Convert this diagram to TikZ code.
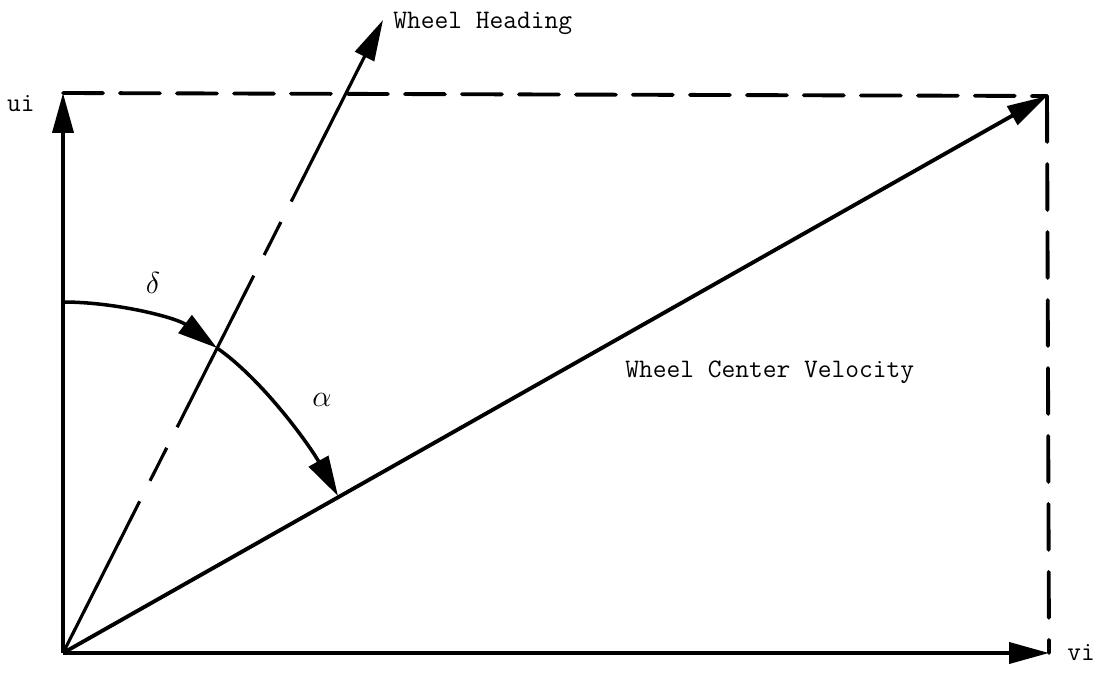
\documentclass[tikz,border=0pt]{standalone}
\usetikzlibrary{arrows.meta,positioning}
\tikzset{
  vecline/.style  = {line width=2.2pt, -{Triangle[length=0.8cm,width=0.42cm]}},
  headline/.style = {line width=1.8pt, -{Triangle[length=0.82cm,width=0.42cm]},
                     dash pattern=on 3.4cm off 0.46cm on 0.74cm off 0.46cm},
  boxline/.style  = {line width=2.2pt, line cap=round},
  anglearc/.style = {line width=2pt, -{Triangle[length=0.8cm,width=0.44cm]}},
  tlabel/.style   = {font=\fontsize{15.2}{18}\selectfont\ttfamily, inner sep=0pt},
  glabel/.style   = {font=\fontsize{18}{20}\selectfont, inner sep=0pt},
}
\begin{document}
\begin{tikzpicture}[x=0.02cm,y=-0.02cm]
  \useasboundingbox (0,0) rectangle (1099,673);
  \coordinate (o) at (63,653);
  \coordinate (ui) at (63,93);
  \coordinate (vi) at (1049,653);
  \coordinate (cr) at (1047,96);
  \coordinate (hd) at (383,20);
  \coordinate (ds) at (63,302);
  \coordinate (dx) at (217,348);
  \coordinate (ae) at (338,496);
  \draw[boxline,dash pattern=on 0.8cm off 0.34cm] (ui) -- (cr);
  \draw[boxline,dash pattern=on 0.92cm off 0.44cm] (cr) -- (vi);
  \draw[vecline] (o) -- (ui);
  \draw[vecline] (o) -- (vi);
  \draw[vecline] (o) -- (cr);
  \draw[headline] (o) -- (hd);
  \draw[anglearc] (ds) .. controls (117,302) and (177,318) .. (dx);
  \draw[anglearc] (dx) .. controls (263,380) and (310,446) .. (ae);
  \node[tlabel] (uil) at (21,104) {ui};
  \node[tlabel,right=0.36cm of vi] (vil) {vi};
  \node[tlabel,anchor=base west] (hdl) at (393,28) {Wheel Heading};
  \node[tlabel,anchor=base west] (vel) at (625,377) {Wheel Center Velocity};
  \node[glabel] (dl) at (153,283) {$\delta$};
  \node[glabel] (al) at (322,400) {$\alpha$};
\end{tikzpicture}
\end{document}
